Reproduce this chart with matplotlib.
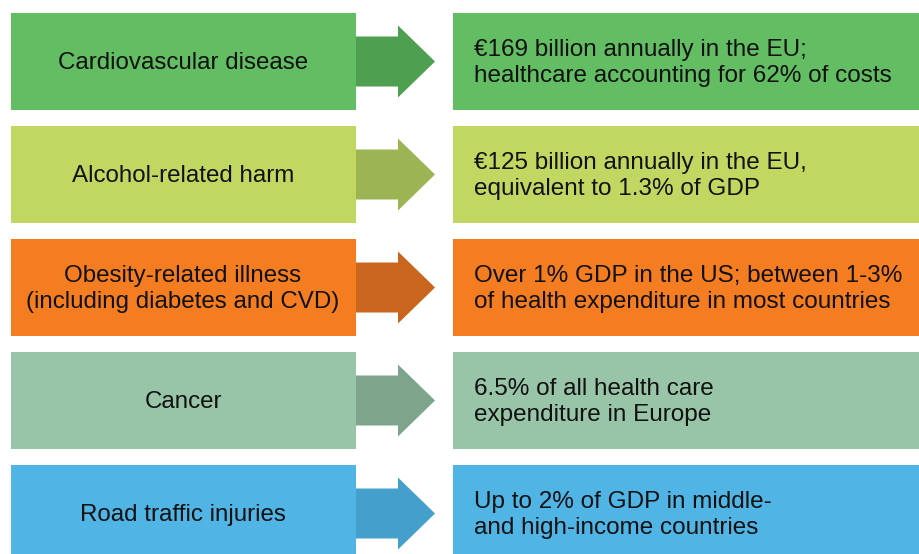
import matplotlib.pyplot as plt
from matplotlib.patches import Rectangle, Polygon

causes = ["Cardiovascular disease",
          "Alcohol-related harm",
          "Obesity-related illness\n(including diabetes and CVD)",
          "Cancer",
          "Road traffic injuries"]
costs = ["€169 billion annually in the EU;\nhealthcare accounting for 62% of costs",
         "€125 billion annually in the EU,\nequivalent to 1.3% of GDP",
         "Over 1% GDP in the US; between 1-3%\nof health expenditure in most countries",
         "6.5% of all health care\nexpenditure in Europe",
         "Up to 2% of GDP in middle-\nand high-income countries"]
box_colors = ["#63bd63", "#c0d862", "#f47d21", "#98c4a7", "#50b4e4"]
arrow_colors = ["#4f9f50", "#9db454", "#c9651c", "#7da58c", "#44a0cb"]

W, H = 919, 554
fig = plt.figure(figsize=(W / 100, H / 100), dpi=100)
ax = fig.add_axes([0, 0, 1, 1])
ax.set_xlim(0, W)
ax.set_ylim(H, 0)
ax.axis("off")

plt.rcParams['font.family'] = ['Liberation Sans', 'DejaVu Sans']

top0, pitch, bh = 13, 113, 97
for i in range(len(causes)):
    top = top0 + i * pitch
    mid = top + bh / 2
    ax.add_patch(Rectangle((11, top), 345, bh, color=box_colors[i], lw=0))
    ax.add_patch(Rectangle((453, top), 470, bh, color=box_colors[i], lw=0))
    ax.add_patch(Polygon([(356, mid - 25), (398, mid - 25), (398, mid - 36),
                          (435, mid), (398, mid + 36), (398, mid + 25),
                          (356, mid + 25)], closed=True,
                         color=arrow_colors[i], lw=0))
    ax.text(183, mid + 1.5, causes[i], ha="center", va="center", fontsize=17.4,
            linespacing=1.25, color="#111111")
    ax.text(474, mid + 1.5, costs[i], ha="left", va="center", fontsize=17.5,
            linespacing=1.25, color="#111111")

fig.savefig("out.png", dpi=100)
